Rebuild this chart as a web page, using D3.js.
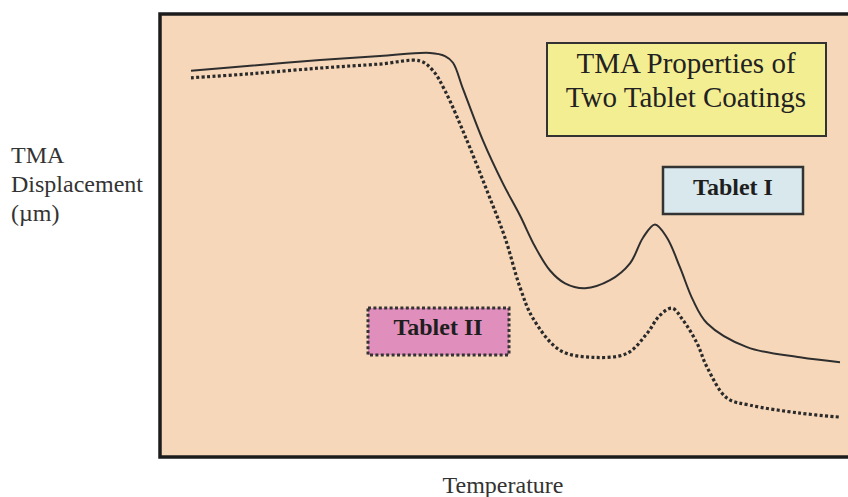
<!DOCTYPE html>
<html>
<head>
<meta charset="utf-8">
<script src="https://cdn.jsdelivr.net/npm/d3@7"></script>
<style>
  html, body { margin: 0; padding: 0; background: #ffffff; }
  svg { display: block; }
</style>
</head>
<body>
<svg id="chart" width="848" height="497"></svg>
<script>
// ---- Data (temperature in arbitrary units, displacement in arbitrary units) ----
const tabletITemp = [26.2, 38, 52, 64, 74, 77, 78.6, 80.6, 84.6, 88.6, 92, 95, 98, 101, 105, 110, 114, 116.6, 119, 121.4, 124, 126.6, 129.4, 137.4, 148, 156];
const tabletIDisp = [87.2, 88.3, 89.6, 90.5, 91.2, 90.5, 89.0, 83.1, 71.4, 61.7, 54.5, 47.5, 42.1, 39.2, 38.1, 39.9, 43.7, 49.5, 52.5, 49.5, 42.8, 35.4, 30.2, 24.8, 22.5, 21.4];

const tabletIITemp = [26.2, 38, 52, 64, 72, 74.6, 77, 81.4, 85.4, 89, 92, 94.6, 100, 106.6, 113.4, 117.4, 120, 122.4, 124.6, 127.4, 129.4, 133.4, 138, 148, 156];
const tabletIIDisp = [85.6, 86.5, 87.8, 88.7, 89.4, 87.2, 82.7, 71.4, 60.1, 49.5, 38.3, 31.3, 24.1, 22.5, 23.4, 27.9, 32.0, 33.6, 30.9, 25.7, 20.3, 13.3, 11.7, 9.9, 9.0];

const seriesNames = ["Tablet I", "Tablet II"];
const chartTitle = ["TMA Properties of", "Two Tablet Coatings"];
const yLabelLines = ["TMA", "Displacement", "(\u00b5m)"];
const xLabel = "Temperature";

// ---- Layout ----
const svg = d3.select("#chart");
const plot = { left: 160, top: 14, right: 860, bottom: 457 };

const x = d3.scaleLinear().domain([20, 160]).range([plot.left, plot.right]);
const y = d3.scaleLinear().domain([0, 100]).range([plot.bottom, plot.top]);

const serif = "'Liberation Serif', 'Times New Roman', serif";

// plot background + frame
svg.append("rect")
  .attr("x", plot.left).attr("y", plot.top)
  .attr("width", plot.right - plot.left).attr("height", plot.bottom - plot.top)
  .attr("fill", "#f6d7ba")
  .attr("stroke", "#1c1c1c").attr("stroke-width", 3.5);

const line = d3.line()
  .x(d => x(d[0])).y(d => y(d[1]))
  .curve(d3.curveCatmullRom.alpha(0.5));

const s1 = tabletITemp.map((t, i) => [t, tabletIDisp[i]]);
const s2 = tabletIITemp.map((t, i) => [t, tabletIIDisp[i]]);

svg.append("path").datum(s1)
  .attr("d", line).attr("fill", "none")
  .attr("stroke", "#2e2e2e").attr("stroke-width", 2);

svg.append("path").datum(s2)
  .attr("d", line).attr("fill", "none")
  .attr("stroke", "#2a2a2a").attr("stroke-width", 3.2)
  .attr("stroke-dasharray", "3,2.4");

// Title box
const tb = svg.append("g");
tb.append("rect").attr("x", 547).attr("y", 43).attr("width", 279).attr("height", 93)
  .attr("fill", "#f4ee92").attr("stroke", "#333").attr("stroke-width", 2);
tb.selectAll("text").data(chartTitle).join("text")
  .attr("x", 686).attr("y", (d, i) => 73 + i * 34)
  .attr("text-anchor", "middle")
  .attr("font-family", serif).attr("font-size", 29).attr("fill", "#222")
  .text(d => d);

// Tablet I label
const l1 = svg.append("g");
l1.append("rect").attr("x", 663).attr("y", 167).attr("width", 140).attr("height", 47)
  .attr("fill", "#d8e8ec").attr("stroke", "#333").attr("stroke-width", 2.5);
l1.append("text").attr("x", 733).attr("y", 195).attr("text-anchor", "middle")
  .attr("font-family", serif).attr("font-weight", "bold").attr("font-size", 24).attr("fill", "#1e1e1e")
  .text(seriesNames[0]);

// Tablet II label
const l2 = svg.append("g");
l2.append("rect").attr("x", 368).attr("y", 308).attr("width", 141).attr("height", 47)
  .attr("fill", "#e08fbd").attr("stroke", "#333").attr("stroke-width", 3)
  .attr("stroke-dasharray", "3,2.4");
l2.append("text").attr("x", 438).attr("y", 335).attr("text-anchor", "middle")
  .attr("font-family", serif).attr("font-weight", "bold").attr("font-size", 24).attr("fill", "#1e1e1e")
  .text(seriesNames[1]);

// Y label
svg.append("g").selectAll("text").data(yLabelLines).join("text")
  .attr("x", 11).attr("y", (d, i) => 163 + i * 29)
  .attr("font-family", serif).attr("font-size", 24).attr("fill", "#333")
  .text(d => d);

// X label
svg.append("text").attr("x", 503).attr("y", 493).attr("text-anchor", "middle")
  .attr("font-family", serif).attr("font-size", 24).attr("fill", "#333")
  .text(xLabel);
</script>
</body>
</html>
